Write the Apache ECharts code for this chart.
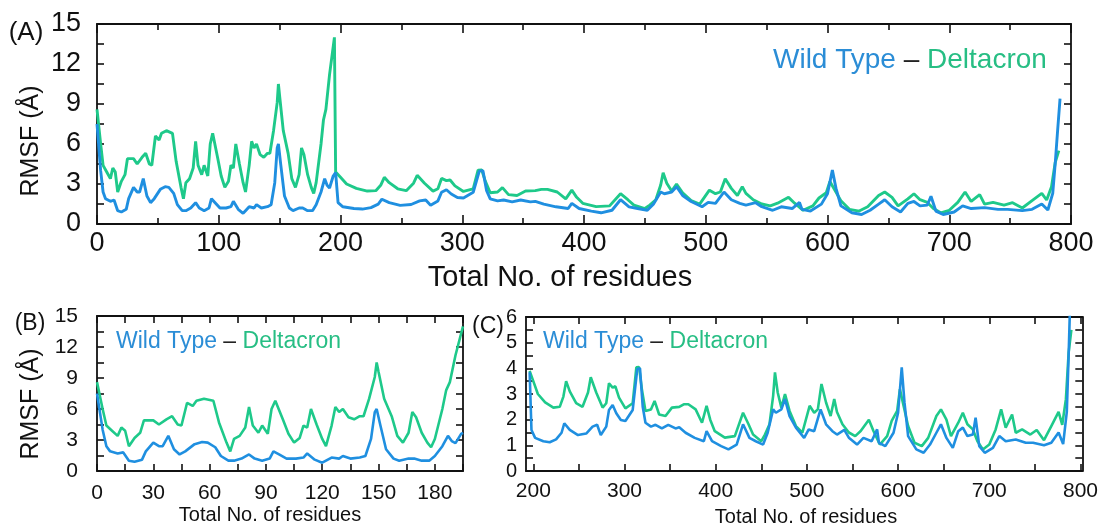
<!DOCTYPE html>
<html>
<head>
<meta charset="utf-8">
<script src="https://cdn.jsdelivr.net/npm/echarts@6/dist/echarts.min.js"></script>
<style>
  html, body { margin: 0; padding: 0; background: #fff; }
  #chart { width: 1101px; height: 529px; }
</style>
</head>
<body>
<div id="chart"></div>
<script>
// Wild Type RMSF (Å) per residue
const wtResidues = [
  0, 3, 5, 7, 11, 14, 17, 20, 24, 26, 30, 33, 35, 38, 41, 44, 47, 52, 56, 59,
  63, 66, 70, 73, 77, 81, 84, 88, 92, 94, 97, 101, 106, 110, 112, 116, 120, 122, 125, 129,
  131, 135, 140, 143, 146, 148, 149, 151, 154, 158, 161, 166, 169, 173, 177, 180, 184, 187, 189, 191,
  194, 195,
  196, 198, 202, 211, 218, 225, 231, 234, 240, 249, 258, 265, 270, 274, 280, 283, 287, 291, 296, 301,
  309, 314, 317, 320, 323, 329, 334, 341, 348, 356, 360, 367, 377, 387, 390, 396, 406, 414, 423, 430,
  437, 444, 452, 457, 463, 466, 472, 476, 481, 488, 497, 502, 508, 515, 521, 528, 533, 541, 546, 555,
  562, 571, 577, 579, 586, 595, 600, 604, 607, 611, 620, 628, 635, 642, 647, 653, 660, 666, 671, 676,
  682, 685, 689, 695, 704, 711, 718, 729, 740, 748, 760, 768, 776, 781, 785, 787, 789, 791,
]
const wtRmsf = [
  7.5, 4.0, 2.4, 1.9, 1.7, 1.8, 1.0, 0.9, 1.1, 1.9, 2.75, 2.4, 2.4, 3.4, 2.1, 1.6, 1.9, 2.6, 2.8, 2.75,
  2.3, 1.45, 1.0, 1.0, 1.2, 1.6, 1.2, 1.0, 1.2, 1.9, 1.6, 1.2, 1.2, 1.3, 1.7, 1.1, 0.8, 1.0, 1.3, 1.2,
  1.45, 1.2, 1.3, 1.45, 3.1, 5.7, 6.0, 4.4, 2.1, 1.2, 1.0, 1.2, 1.2, 1.0, 1.0, 1.45, 2.4, 3.4, 2.9, 2.7,
  3.6, 3.7,
  3.85, 1.6, 1.29, 1.16, 1.12, 1.23, 1.49, 1.86, 1.6, 1.4, 1.46, 1.73, 1.8, 1.4, 1.73, 2.38, 2.57, 2.25, 1.99, 1.95,
  2.38, 3.97, 4.0, 2.5, 1.88, 1.73, 1.8, 1.66, 1.8, 1.66, 1.7, 1.49, 1.29, 1.16, 1.55, 1.16, 0.97, 0.84, 1.03, 1.82,
  1.29, 1.16, 1.03, 1.49, 2.4, 2.27, 2.4, 2.8, 2.14, 1.69, 1.29, 1.62, 1.55, 2.4, 1.82, 1.55, 1.42, 1.6, 1.3, 1.03,
  1.29, 1.16, 1.62, 1.1, 0.97, 1.49, 2.27, 4.04, 2.67, 1.36, 0.84, 0.71, 1.03, 1.49, 1.82, 1.29, 0.9, 1.55, 1.69, 1.36,
  1.42, 2.08, 0.97, 0.71, 0.9, 1.36, 1.16, 1.23, 1.1, 1.1, 1.0, 1.1, 1.5, 1.05, 2.3, 4.5, 7.0, 9.4,
]

// Deltacron RMSF (Å) per residue
const dcResidues = [
  0, 3, 5, 8, 11, 13, 15, 17, 20, 23, 25, 30, 33, 37, 40, 43, 45, 48, 51, 53,
  57, 62, 65, 69, 71, 73, 76, 79, 81, 83, 86, 88, 91, 93, 95, 99, 102, 105, 108, 110,
  112, 114, 117, 120, 122, 125, 127, 129, 131, 134, 137, 140, 142, 145, 148, 149, 150, 153, 157, 160,
  163, 166, 168, 170, 173, 176, 178, 180, 184, 186, 188, 191, 195,
  196, 200, 205, 213, 222, 229, 233, 236, 240, 247, 254, 260, 263, 269, 276, 280, 283, 287, 290, 294,
  301, 309, 313, 316, 319, 323, 329, 333, 338, 345, 352, 360, 365, 370, 378, 385, 390, 394, 399, 410,
  421, 430, 436, 441, 450, 454, 459, 463, 465, 468, 472, 476, 481, 488, 495, 503, 508, 512, 516, 521,
  526, 530, 533, 539, 546, 553, 559, 568, 573, 580, 588, 593, 599, 602, 606, 611, 618, 626, 633, 642,
  647, 653, 658, 666, 671, 676, 682, 687, 693, 700, 707, 713, 718, 725, 729, 736, 745, 752, 760, 768,
  776, 780, 784, 787, 790,
]
const dcRmsf = [
  8.6, 6.0, 4.4, 3.9, 3.4, 4.2, 3.9, 2.4, 3.2, 3.7, 4.9, 4.9, 4.5, 5.0, 5.3, 4.5, 4.4, 6.6, 6.3, 6.8,
  7.0, 6.8, 4.7, 2.75, 1.9, 3.1, 3.4, 4.2, 6.2, 4.4, 3.7, 4.4, 3.6, 6.0, 6.8, 5.0, 3.6, 2.75, 3.2, 4.4,
  4.2, 6.0, 4.5, 3.1, 2.4, 4.4, 6.2, 5.7, 6.0, 5.2, 5.0, 5.3, 5.3, 7.0, 9.1, 10.5, 9.6, 7.0, 5.3, 3.4,
  2.75, 3.7, 5.7, 5.2, 3.7, 2.75, 2.3, 3.1, 6.0, 7.8, 8.6, 11.2, 14.0,
  3.9, 3.5, 3.0, 2.67, 2.47, 2.5, 2.9, 3.5, 3.1, 2.64, 2.5, 3.06, 3.65, 3.06, 2.47, 2.64, 3.42, 3.25, 3.3, 2.86,
  2.44, 2.64, 4.04, 4.05, 3.2, 2.34, 2.4, 2.73, 2.2, 2.14, 2.47, 2.5, 2.6, 2.6, 2.4, 1.88, 2.54, 2.0, 1.55, 1.3,
  1.36, 2.27, 1.82, 1.42, 1.16, 1.42, 1.82, 2.93, 3.84, 3.06, 2.47, 3.0, 2.34, 1.75, 1.49, 2.54, 2.27, 2.4, 3.39, 2.67,
  2.14, 2.8, 2.3, 1.82, 1.5, 1.36, 1.56, 2.0, 1.56, 1.03, 1.36, 1.95, 2.34, 3.19, 2.54, 1.75, 1.1, 0.97, 1.29, 2.14,
  2.4, 2.0, 1.36, 1.88, 2.27, 1.82, 1.62, 1.16, 0.84, 1.03, 1.62, 2.4, 1.69, 2.2, 1.49, 1.62, 1.42, 1.6, 1.2, 1.75,
  2.3, 1.8, 2.8, 4.6, 5.5,
]

// tick values for panel C x axis
const cTickValues = [200, 250, 300, 350, 400, 450, 500, 550, 600, 650, 700, 750, 800]
const cLabelValues = [200, 300, 400, 500, 600, 700, 800]

const wtColor = '#1f8fe0'
const dcColor = '#1ec98a'
const wtText = '#2b8dd6'
const dcText = '#27be84'
const font = "'Liberation Sans', Arial, sans-serif"
const ink = '#111'

const pairs = (xs, ys, lo, hi) => {
  const out = []
  xs.forEach((x, i) => {
    if (x >= lo && x <= hi) {
      out.push([x, ys[i]])
    }
  })
  return out
}

// one axis of a boxed panel, ticks pointing inside
const makeAxis = (grid, position, cfg) => {
  const showLabel = position === 'bottom' || position === 'left'
  const axis = {
    gridIndex: grid,
    type: 'value',
    position: position,
    min: cfg.min,
    max: cfg.max,
    axisLine: { show: true, onZero: false, lineStyle: { color: ink, width: 1.8 } },
    axisTick: { show: true, inside: true, length: cfg.tickLen, lineStyle: { color: ink, width: 1.6 } },
    axisLabel: {
      show: showLabel,
      color: ink,
      fontFamily: font,
      fontSize: cfg.fontSize,
      margin: cfg.margin,
    },
    splitLine: { show: false },
  }
  if (cfg.interval) {
    axis.interval = cfg.interval
  }
  if (cfg.minor) {
    axis.minorTick = { show: true, splitNumber: cfg.minor, length: cfg.minorLen, lineStyle: { color: ink, width: 1.6 } }
    axis.minorTick.inside = true
  }
  if (cfg.formatter) {
    axis.axisLabel.formatter = cfg.formatter
  }
  if (cfg.tickValues) {
    axis.axisTick.customValues = cfg.tickValues
  }
  if (cfg.labelValues) {
    axis.axisLabel.customValues = cfg.labelValues
  }
  return axis
}

const axA_x = { min: 0, max: 800, interval: 100, minor: 2, tickLen: 9, minorLen: 6, fontSize: 27, margin: 6 }
const axA_y = { min: 0, max: 15, interval: 3, minor: 2, tickLen: 7, minorLen: 7, fontSize: 27, margin: 16 }
const axB_x = {
  min: 0, max: 195, interval: 15, tickLen: 7, fontSize: 21, margin: 12,
  formatter: (v) => (v % 30 === 0 ? String(v) : ''),
}
const axB_y = { min: 0, max: 15, interval: 3, minor: 2, tickLen: 7, minorLen: 7, fontSize: 21, margin: 19 }
const axC_x = {
  min: 192, max: 802, tickLen: 7, fontSize: 21, margin: 10,
  tickValues: cTickValues, labelValues: cLabelValues,
}
const axC_y = { min: 0, max: 6, interval: 1, minor: 2, tickLen: 7, minorLen: 7, fontSize: 20, margin: 9 }

const lineSeries = (name, grid, data, color, width) => ({
  name: name,
  type: 'line',
  xAxisIndex: grid * 2,
  yAxisIndex: grid * 2,
  data: data,
  showSymbol: false,
  symbol: 'none',
  lineStyle: { color: color, width: width },
  itemStyle: { color: color },
  clip: true,
  z: color === wtColor ? 3 : 2,
})

const legendText = (left, top, size) => ({
  type: 'text',
  left: left,
  top: top,
  style: {
    text: '{a|Wild Type}{b| – }{c|Deltacron}',
    fontFamily: font,
    fontSize: size,
    rich: {
      a: { fill: wtText, fontSize: size, fontFamily: font },
      b: { fill: '#222', fontSize: size, fontFamily: font },
      c: { fill: dcText, fontSize: size, fontFamily: font },
    },
  },
})

const plainText = (x, y, text, size, rotate) => ({
  type: 'text',
  x: x,
  y: y,
  rotation: rotate ? Math.PI / 2 : 0,
  style: {
    text: text,
    fontFamily: font,
    fontSize: size,
    fill: ink,
    align: 'center',
    verticalAlign: 'middle',
  },
})

const chart = echarts.init(document.getElementById('chart'), null, { renderer: 'canvas' })
const option = {
  animation: false,
  backgroundColor: '#fff',
  grid: [
    { left: 97, top: 24, width: 974, height: 200 },
    { left: 97, top: 316, width: 366, height: 155 },
    { left: 526, top: 317, width: 561, height: 154 },
  ],
  xAxis: [
    makeAxis(0, 'bottom', axA_x),
    makeAxis(0, 'top', axA_x),
    makeAxis(1, 'bottom', axB_x),
    makeAxis(1, 'top', axB_x),
    makeAxis(2, 'bottom', axC_x),
    makeAxis(2, 'top', axC_x),
  ],
  yAxis: [
    makeAxis(0, 'left', axA_y),
    makeAxis(0, 'right', axA_y),
    makeAxis(1, 'left', axB_y),
    makeAxis(1, 'right', axB_y),
    makeAxis(2, 'left', axC_y),
    makeAxis(2, 'right', axC_y),
  ],
  series: [
    lineSeries('Deltacron', 0, pairs(dcResidues, dcRmsf, 0, 800), dcColor, 2.9),
    lineSeries('Wild Type', 0, pairs(wtResidues, wtRmsf, 0, 800), wtColor, 2.9),
    lineSeries('Deltacron', 1, pairs(dcResidues, dcRmsf, 0, 195), dcColor, 2.6),
    lineSeries('Wild Type', 1, pairs(wtResidues, wtRmsf, 0, 195), wtColor, 2.6),
    lineSeries('Deltacron', 2, pairs(dcResidues, dcRmsf, 196, 800), dcColor, 2.6),
    lineSeries('Wild Type', 2, pairs(wtResidues, wtRmsf, 196, 800), wtColor, 2.6),
  ],
  graphic: [
    plainText(26, 33, '(A)', 26),
    plainText(31, 141, 'RMSF (Å)', 25, true),
    plainText(560, 278, 'Total No. of residues', 29),
    legendText(773, 46, 28),
    plainText(30, 324, '(B)', 23),
    plainText(31, 404, 'RMSF (Å)', 25, true),
    plainText(270, 515, 'Total No. of residues', 20),
    legendText(116, 330, 23),
    plainText(488, 327, '(C)', 23),
    legendText(543, 330, 23),
    plainText(806, 517, 'Total No. of residues', 20),
  ],
}
chart.setOption(option)
</script>
</body>
</html>
